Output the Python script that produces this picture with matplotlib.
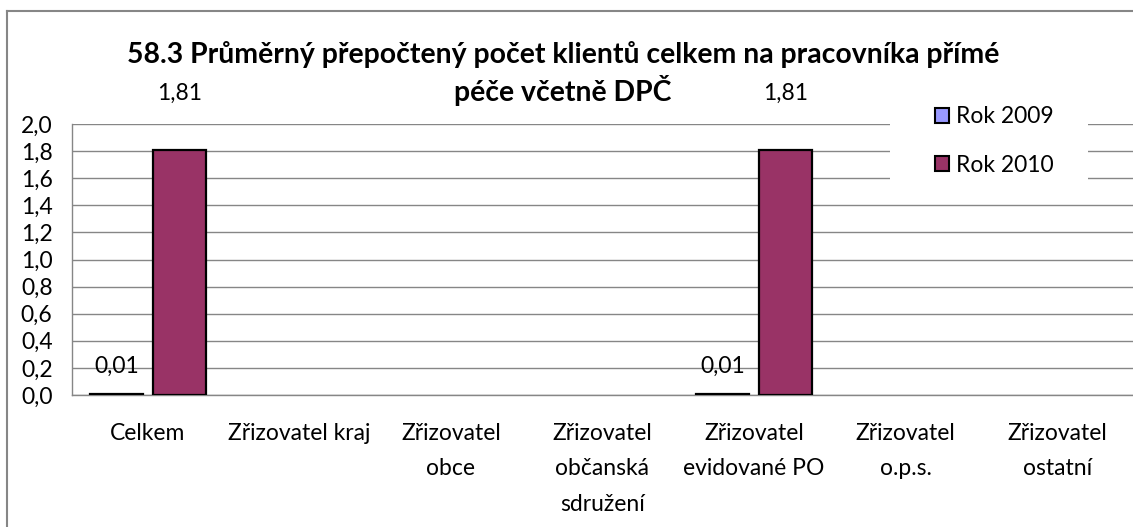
import matplotlib.pyplot as plt
from matplotlib.lines import Line2D
from matplotlib.patches import Patch, Rectangle
from matplotlib.ticker import FuncFormatter
import numpy as np

categories = ['Celkem', 'Zřizovatel kraj', 'Zřizovatel\nobce', 'Zřizovatel\nobčanská\nsdružení',
              'Zřizovatel\nevidované PO', 'Zřizovatel\no.p.s.', 'Zřizovatel\nostatní']
rok_2009 = [0.01, np.nan, np.nan, np.nan, 0.01, np.nan, np.nan]
rok_2010 = [1.81, np.nan, np.nan, np.nan, 1.81, np.nan, np.nan]
series_names = ['Rok 2009', 'Rok 2010']
title_lines = ['58.3 Průměrný přepočtený počet klientů celkem na pracovníka přímé',
               'péče včetně DPČ']

COL_2009 = '#9999ff'
COL_2010 = '#993366'
GRID = '#868686'
FONT = 'Lato'
TICK_SIZE = 16.5

plt.rcParams['font.family'] = [FONT, 'DejaVu Sans']

fig = plt.figure(figsize=(11.33, 5.27), dpi=100)
ax = fig.add_axes([72 / 1133, 1 - 395 / 527, 1 - 72 / 1133, (395 - 124) / 527])

x = np.arange(len(categories))
w = 0.35
off = 0.208
ax.bar(x - off, rok_2009, w, color=COL_2009, edgecolor='black', linewidth=1.6, zorder=3)
ax.bar(x + off, rok_2010, w, color=COL_2010, edgecolor='black', linewidth=1.6, zorder=3)

fmt = lambda v: f'{v:.2f}'.replace('.', ',')
for xi, v in zip(x, rok_2009):
    if not np.isnan(v):
        ax.annotate(fmt(v), (xi - off, v), xytext=(0, 27), textcoords='offset pixels',
                    ha='center', va='center', fontsize=TICK_SIZE)
for xi, v in zip(x, rok_2010):
    if not np.isnan(v):
        ax.annotate(fmt(v), (xi + off, v), xytext=(0, 56), textcoords='offset pixels',
                    ha='center', va='center', fontsize=TICK_SIZE, annotation_clip=False)

ax.set_xlim(-0.5, len(categories) - 0.5)
ax.set_ylim(0, 2.0)
ax.set_yticks(np.arange(0, 2.01, 0.2))
ax.yaxis.set_major_formatter(FuncFormatter(lambda v, p: f'{v:.1f}'.replace('.', ',')))
ax.set_xticks(x)
ax.set_xticklabels(categories, linespacing=1.85)
ax.tick_params(axis='y', length=0, pad=14, labelsize=TICK_SIZE)
ax.tick_params(axis='x', length=0, pad=20, labelsize=TICK_SIZE)
ax.yaxis.grid(True, color=GRID, linewidth=1, zorder=0)
ax.set_axisbelow(True)
for s in ['top', 'right']:
    ax.spines[s].set_visible(False)
for s in ['left', 'bottom']:
    ax.spines[s].set_color(GRID)
    ax.spines[s].set_linewidth(1)

for line, ypx in zip(title_lines, [55, 90]):
    fig.text(563 / 1133, 1 - ypx / 527, line, ha='center', va='center', fontsize=20.4,
             fontweight='bold')

# white area behind legend, covering the gridlines
fig.add_artist(Rectangle((890 / 1133, 1 - 190 / 527), 198 / 1133, 95 / 527,
                         transform=fig.transFigure, facecolor='white', edgecolor='none', zorder=5))
handles = [Patch(facecolor=COL_2009, edgecolor='black', linewidth=1.5),
           Patch(facecolor=COL_2010, edgecolor='black', linewidth=1.5)]
leg = fig.legend(handles, series_names, loc='center left', bbox_to_anchor=(935 / 1133, 1 - 141 / 527),
                 frameon=False, fontsize=TICK_SIZE, handlelength=0.62, handleheight=0.62,
                 handletextpad=0.3, labelspacing=1.2, borderpad=0, borderaxespad=0)
leg.set_zorder(6)

# outer chart border (only top and left visible in the crop)
fig.add_artist(Line2D([7 / 1133, 7 / 1133], [0, 1 - 11 / 527], transform=fig.transFigure,
                      color=GRID, linewidth=1.5))
fig.add_artist(Line2D([7 / 1133, 1], [1 - 11 / 527, 1 - 11 / 527], transform=fig.transFigure,
                      color=GRID, linewidth=1.5))

fig.savefig('out.png', dpi=100)
